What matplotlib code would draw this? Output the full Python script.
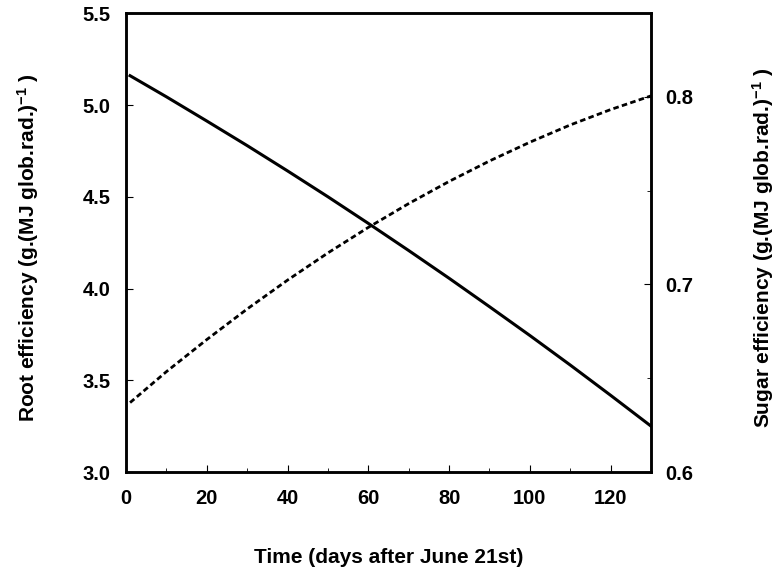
import numpy as np
import matplotlib.pyplot as plt
from matplotlib.ticker import MultipleLocator

plt.rcParams['font.family'] = ['Liberation Sans', 'DejaVu Sans']
plt.rcParams['mathtext.fontset'] = 'custom'
plt.rcParams['mathtext.rm'] = 'Liberation Sans'
plt.rcParams['mathtext.it'] = 'Liberation Sans'
plt.rcParams['mathtext.bf'] = 'Liberation Sans:bold'

# days after June 21st
days = [1, 10, 20, 30, 40, 50, 60, 70, 80, 90, 100, 110, 120, 130]
# root efficiency (left axis)
root_eff = [5.16, 5.045, 4.913, 4.779, 4.641, 4.500, 4.355, 4.207, 4.056, 3.901, 3.744, 3.583, 3.418, 3.25]
# sugar efficiency (right axis)
sugar_eff = [0.637, 0.6535, 0.6706, 0.6869, 0.7023, 0.7168, 0.7304, 0.7431, 0.7549, 0.7658, 0.7758, 0.785, 0.7932, 0.8005]

fig = plt.figure(figsize=(7.78, 5.72), dpi=100)
ax = fig.add_axes([0.162, 0.1748, 0.6748, 0.8019])
ax2 = ax.twinx()

ax.plot(days, root_eff, color='black', linewidth=2.2, linestyle='-')
ax2.plot(days, sugar_eff, color='black', linewidth=2.0, linestyle=(0, (2.0, 1.2)))

ax.set_xlim(0, 130)
ax.set_ylim(3.0, 5.5)
ax2.set_ylim(0.6, 0.8445)

ax.xaxis.set_major_locator(MultipleLocator(20))
ax.xaxis.set_minor_locator(MultipleLocator(10))
ax2.yaxis.set_minor_locator(MultipleLocator(0.05))
ax.set_yticks([3.0, 3.5, 4.0, 4.5, 5.0, 5.5])
ax.set_yticklabels(['3.0', '3.5', '4.0', '4.5', '5.0', '5.5'])
ax2.set_yticks([0.6, 0.7, 0.8])
ax2.set_yticklabels(['0.6', '0.7', '0.8'])

for a in (ax, ax2):
    for s in a.spines.values():
        s.set_linewidth(1.8)
    a.tick_params(which='major', direction='in', length=5, width=0.8, labelsize=14.5)
    a.tick_params(which='minor', direction='in', length=3, width=0.6)
ax.tick_params(axis='x', pad=12)
ax.tick_params(axis='y', pad=11)
ax2.tick_params(axis='y', pad=10)
for lbl in ax.get_xticklabels() + ax.get_yticklabels() + ax2.get_yticklabels():
    lbl.set_fontweight('bold')

ax.set_xlabel('Time (days after June 21st)', fontsize=15, fontweight='bold', labelpad=29)
ax.set_ylabel(r'Root efficiency (g.(MJ glob.rad.)$\mathbf{^{-1}}$ )', fontsize=15,
              fontweight='bold', labelpad=30)
ax2.set_ylabel(r'Sugar efficiency (g.(MJ glob.rad.)$\mathbf{^{-1}}$ )', fontsize=15,
               fontweight='bold', labelpad=41)
ax.yaxis.label.set_y(0.49)
ax2.yaxis.label.set_y(0.49)

fig.savefig('out.png', dpi=100)
